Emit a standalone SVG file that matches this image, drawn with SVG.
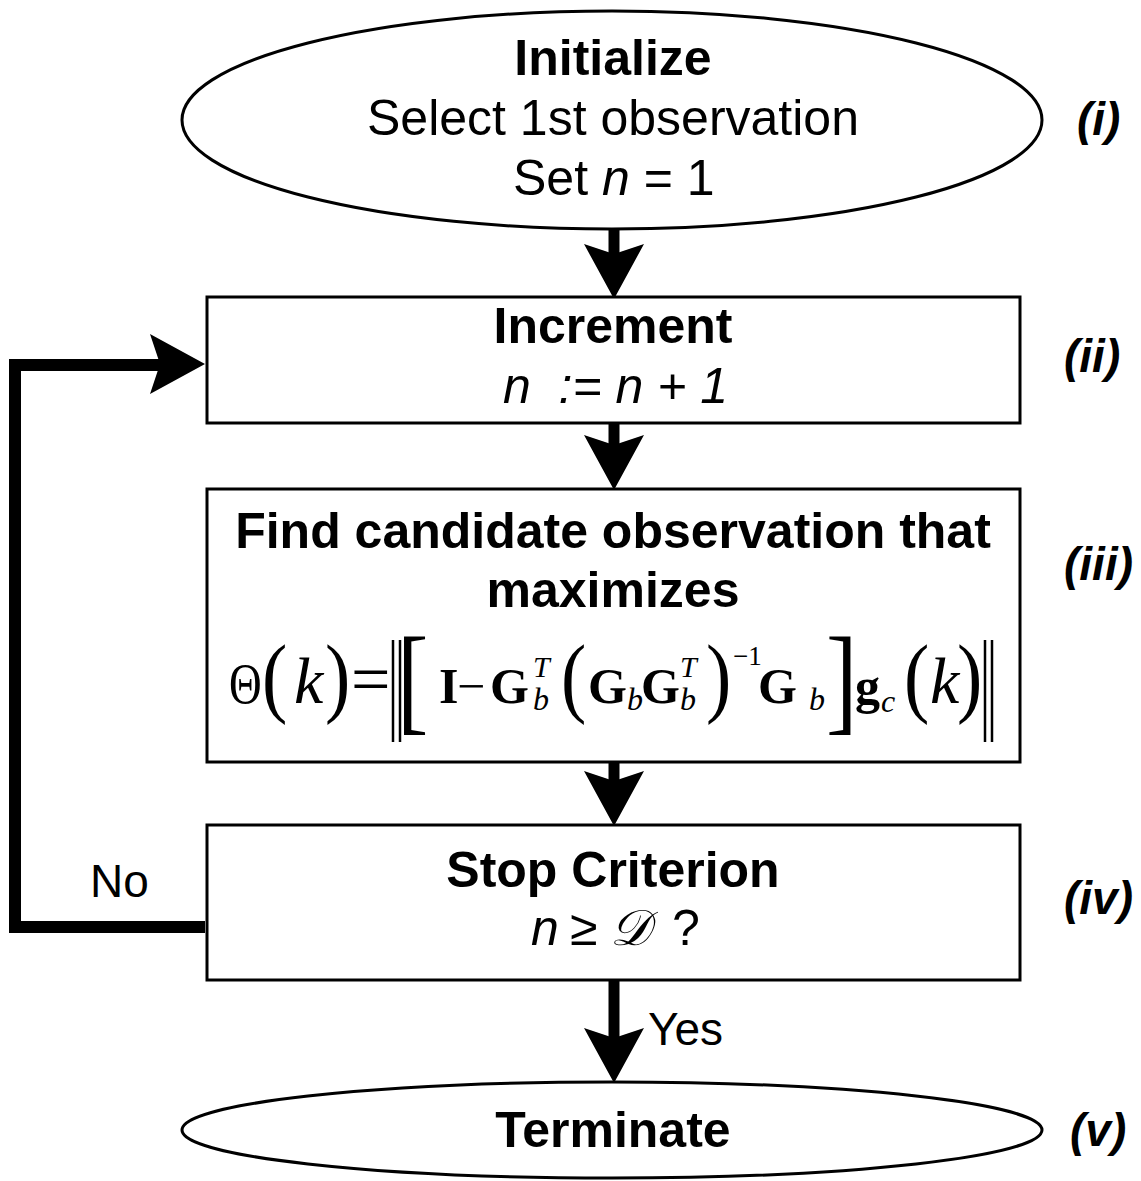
<svg xmlns="http://www.w3.org/2000/svg" xmlns:xlink="http://www.w3.org/1999/xlink" width="1141" height="1181" viewBox="0 0 1141 1181">
  <style>
    .shape { fill: #fff; stroke: #000; stroke-width: 3; }
    .t { font-family: "Liberation Sans", Arial, sans-serif; font-size: 50px; fill: #000; }
    .b { font-weight: bold; }
    .i { font-style: italic; }
    .tag { font-family: "Liberation Sans", Arial, sans-serif; font-size: 46px; font-weight: bold; font-style: italic; fill: #000; }
    .lbl { font-family: "Liberation Sans", Arial, sans-serif; font-size: 46px; fill: #000; }
    .m { font-family: "Liberation Serif", "Times New Roman", serif; fill: #000; }
    .p { font-family: "Liberation Serif", "Times New Roman", serif; font-size: 76px; fill: #000; }
    .mb { font-family: "Liberation Serif", "Times New Roman", serif; font-weight: bold; font-size: 50px; fill: #000; }
    .mi { font-family: "Liberation Serif", "Times New Roman", serif; font-style: italic; fill: #000; }
    .shaft { stroke: #000; stroke-width: 11; fill: none; }
    .loop { stroke: #000; stroke-width: 12; fill: none; stroke-linejoin: miter; }
    .bar { stroke: #000; stroke-width: 2.5; }
  </style>
  <defs>
    <!-- arrowhead, tip at origin, pointing along +y -->
    <path id="head" d="M0,0 L-30,-55 L0,-45 L30,-55 Z" fill="#000"/>
  </defs>

  <!-- connectors -->
  <g id="connectors">
    <line class="shaft" x1="614" y1="230" x2="614" y2="256"/>
    <use xlink:href="#head" transform="translate(614,299)"/>
    <line class="shaft" x1="614" y1="423" x2="614" y2="446"/>
    <use xlink:href="#head" transform="translate(614,490)"/>
    <line class="shaft" x1="614" y1="762" x2="614" y2="782"/>
    <use xlink:href="#head" transform="translate(614,826)"/>
    <line class="shaft" x1="614" y1="980" x2="614" y2="1040"/>
    <use xlink:href="#head" transform="translate(614,1083)"/>
    <text class="lbl" x="648" y="1045">Yes</text>
    <!-- loop back from the stop test to the increment step -->
    <polyline class="loop" points="205,927 15,927 15,365 160,365"/>
    <use xlink:href="#head" transform="translate(205,364) rotate(-90)"/>
    <text class="lbl" x="90" y="897">No</text>
  </g>

  <!-- (i) initialise -->
  <g id="node-init">
    <ellipse class="shape" cx="612" cy="120" rx="430" ry="109"/>
    <text class="t b" x="613" y="75" text-anchor="middle">Initialize</text>
    <text class="t" x="613" y="135" text-anchor="middle">Select 1st observation</text>
    <text class="t" x="513" y="195">Set <tspan class="i">n</tspan> = 1</text>
    <text class="tag" x="1077" y="135">(i)</text>
  </g>

  <!-- (ii) increment -->
  <g id="node-increment">
    <rect class="shape" x="207" y="297" width="813" height="126"/>
    <text class="t b" x="613" y="343" text-anchor="middle">Increment</text>
    <text class="t i" x="503" y="403" xml:space="preserve" font-size="48">n  := n + 1</text>
    <text class="tag" x="1064" y="372">(ii)</text>
  </g>

  <!-- (iii) candidate search -->
  <g id="node-search">
    <rect class="shape" x="207" y="489" width="813" height="273"/>
    <text class="t b" x="613" y="548" text-anchor="middle">Find candidate observation that</text>
    <text class="t b" x="613" y="607" text-anchor="middle">maximizes</text>
    <g id="formula">
      <text class="m" font-size="58" transform="translate(229,703) scale(0.78,1)">Θ</text>
      <text class="p" transform="translate(262,706) scale(1,1.18)">(</text>
      <text class="mi" font-size="66" x="294" y="703">k</text>
      <text class="p" transform="translate(325,706) scale(1,1.18)">)</text>
      <text class="m" font-size="70" x="351" y="703">=</text>
      <line class="bar" x1="393" y1="640" x2="393" y2="742"/>
      <line class="bar" x1="400" y1="640" x2="400" y2="742"/>
      <text class="m" font-size="118" transform="translate(397,719) scale(0.8,1)">[</text>
      <text class="mb" x="439" y="703">I</text>
      <text class="m" font-size="50" x="457" y="703">−</text>
      <text class="mb" x="490" y="703">G</text>
      <text class="mi" font-size="30" x="533" y="677">T</text>
      <text class="mi" font-size="32" x="533" y="710">b</text>
      <text class="p" transform="translate(561,706) scale(1,1.18)">(</text>
      <text class="mb" x="588" y="703">G</text>
      <text class="mi" font-size="32" x="627" y="710">b</text>
      <text class="mb" x="641" y="703">G</text>
      <text class="mi" font-size="30" x="680" y="677">T</text>
      <text class="mi" font-size="32" x="680" y="710">b</text>
      <text class="p" transform="translate(706,706) scale(1,1.18)">)</text>
      <text class="m" font-size="27" x="733" y="665">−1</text>
      <text class="mb" x="758" y="703">G</text>
      <text class="mi" font-size="32" x="809" y="710">b</text>
      <text class="m" font-size="118" transform="translate(826,719) scale(0.8,1)">]</text>
      <text class="mb" x="855" y="703">g</text>
      <text class="mi" font-size="32" x="881" y="712">c</text>
      <text class="p" transform="translate(904,706) scale(1,1.18)">(</text>
      <text class="mi" font-size="66" x="930" y="703">k</text>
      <text class="p" transform="translate(957,706) scale(1,1.18)">)</text>
      <line class="bar" x1="985" y1="640" x2="985" y2="742"/>
      <line class="bar" x1="992" y1="640" x2="992" y2="742"/>
    </g>
    <text class="tag" x="1064" y="580">(iii)</text>
  </g>

  <!-- (iv) stop criterion -->
  <g id="node-stop">
    <rect class="shape" x="207" y="825" width="813" height="155"/>
    <text class="t b" x="613" y="887" text-anchor="middle">Stop Criterion</text>
    <text class="t" y="945" font-size="46"><tspan class="i" x="531">n</tspan><tspan x="570">≥</tspan><tspan x="610" font-family="'DejaVu Serif', 'DejaVu Sans', serif" font-style="italic">𝒟</tspan><tspan x="672">?</tspan></text>
    <text class="tag" x="1064" y="914">(iv)</text>
  </g>

  <!-- (v) terminate -->
  <g id="node-terminate">
    <ellipse class="shape" cx="612" cy="1130" rx="430" ry="48"/>
    <text class="t b" x="613" y="1147" text-anchor="middle">Terminate</text>
    <text class="tag" x="1070" y="1146">(v)</text>
  </g>
</svg>
